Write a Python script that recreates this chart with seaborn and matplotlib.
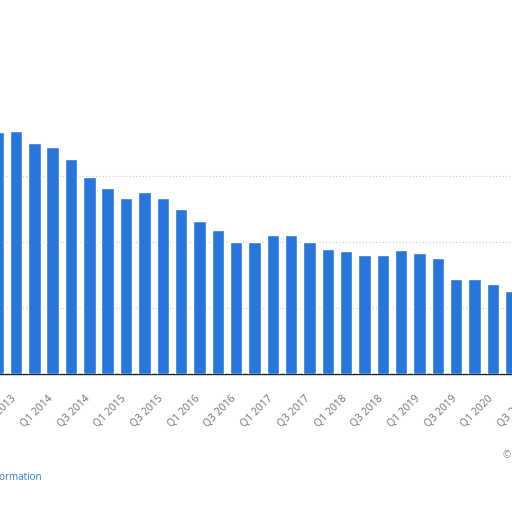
import matplotlib
matplotlib.use("Agg")
import matplotlib.pyplot as plt
import matplotlib.transforms as mtransforms
import seaborn as sns
import pandas as pd

quarters = ["Q2 2013", "Q3 2013", "Q4 2013",
            "Q1 2014", "Q2 2014", "Q3 2014", "Q4 2014",
            "Q1 2015", "Q2 2015", "Q3 2015", "Q4 2015",
            "Q1 2016", "Q2 2016", "Q3 2016", "Q4 2016",
            "Q1 2017", "Q2 2017", "Q3 2017", "Q4 2017",
            "Q1 2018", "Q2 2018", "Q3 2018", "Q4 2018",
            "Q1 2019", "Q2 2019", "Q3 2019", "Q4 2019",
            "Q1 2020", "Q2 2020", "Q3 2020"]
values = [18.3, 18.4, 17.5,
          17.2, 16.3, 14.9, 14.1,
          13.3, 13.8, 13.3, 12.5,
          11.6, 10.9, 10.0, 10.0,
          10.5, 10.5, 10.0, 9.5,
          9.3, 9.0, 9.0, 9.4,
          9.2, 8.8, 7.2, 7.2,
          6.8, 6.3, 6.0]
grid_ticks = [5, 10, 15]

df = pd.DataFrame({"quarter": quarters, "value": values})

sns.set_theme(style="white")
plt.rcParams["font.family"] = ["Open Sans", "DejaVu Sans"]

fig = plt.figure(figsize=(5.12, 5.12), dpi=100)
fig.patch.set_facecolor("white")
ax = fig.add_axes([-11.5 / 512, 138 / 512, 550.3 / 512, 330 / 512])

sns.barplot(data=df, x="quarter", y="value", color="#2876dc", saturation=1,
            width=0.68, ax=ax, zorder=3)

ax.set_ylim(0, 25)
ax.set_xlim(-0.5, len(quarters) - 0.5)
ax.set_yticks(grid_ticks)
ax.yaxis.grid(True, color="#c8c8c8", linestyle=(0, (1, 2)), linewidth=0.8, zorder=0)
ax.tick_params(axis="y", left=False, labelleft=False)
for s in ["top", "right", "left"]:
    ax.spines[s].set_visible(False)
ax.spines["bottom"].set_color("#222222")
ax.spines["bottom"].set_linewidth(1.0)

ticks = list(range(1, len(quarters), 2))
ax.set_xticks(ticks)
ax.set_xticklabels([quarters[i] for i in ticks], rotation=45, ha="right",
                   rotation_mode="anchor", fontsize=7.5, color="#707070")
ax.tick_params(axis="x", bottom=False, pad=8)
offset = mtransforms.ScaledTranslation(-5 / 100, 0, fig.dpi_scale_trans)
for lbl in ax.get_xticklabels():
    lbl.set_transform(lbl.get_transform() + offset)
ax.set_xlabel("")
ax.set_ylabel("")

fig.text(41 / 512, 1 - 478 / 512, "Additional Information", ha="right", va="center",
         fontsize=7, color="#2a7fc8")
fig.text(503 / 512, 1 - 455 / 512, "© Statista 2021", ha="left", va="center",
         fontsize=7, color="#888888")

fig.savefig("out.png", dpi=100, facecolor="white")
